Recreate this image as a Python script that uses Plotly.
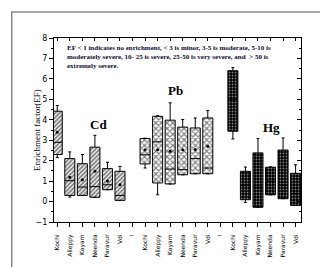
import plotly.graph_objects as go

# ---------------- data ----------------
sites = ["Kochi", "Alleppy", "Kayam", "Neenda", "Paravur", "Vdi"]
tick_labels = sites + ["!"] + sites + ["!"] + sites
cd_pos = [0, 1, 2, 3, 4, 5]
pb_pos = [7, 8, 9, 10, 11, 12]
hg_pos = [14, 15, 16, 17, 18, 19]

cd_q1 = [2.30, 0.30, 0.30, 0.21, 0.58, 0.06]
cd_med = [2.90, 1.02, 0.71, 0.73, 0.82, 0.30]
cd_q3 = [4.42, 2.10, 1.85, 2.66, 1.61, 1.48]
cd_lo = [2.15, 0.22, 0.30, 0.21, 0.58, 0.06]
cd_hi = [4.70, 2.43, 2.30, 3.24, 1.92, 1.72]
cd_mean = [3.39, 1.19, 1.07, 1.48, 1.00, 0.82]

pb_q1 = [1.84, 0.91, 0.86, 1.31, 1.36, 1.36]
pb_med = [2.29, 2.92, 1.59, 1.56, 2.10, 1.64]
pb_q3 = [3.08, 4.17, 3.98, 3.64, 3.60, 4.09]
pb_lo = [1.64, 0.33, 0.86, 1.31, 1.36, 1.36]
pb_hi = [3.10, 4.20, 4.83, 4.01, 4.09, 4.45]
pb_mean = [2.54, 2.54, 2.46, 2.54, 2.55, 2.70]

hg_q1 = [3.44, 0.09, -0.28, 0.33, 0.14, -0.19]
hg_med = [5.00, 0.80, 0.70, 1.00, 0.80, 0.40]
hg_q3 = [6.40, 1.48, 2.38, 1.68, 2.52, 1.38]
hg_lo = [3.06, -0.04, -0.28, 0.33, 0.14, -0.19]
hg_hi = [6.55, 1.69, 3.08, 1.70, 3.11, 1.80]

note = ("EF < 1 indicates no enrichment, < 3 is minor, 3-5 is moderate, 5-10 is<br>"
        "moderately severe, 10- 25 is severe, 25-50 is very severe, and  > 50 is<br>"
        "extremely severe.")

groups = [
    ("Cd", cd_pos, cd_q1, cd_med, cd_q3, cd_lo, cd_hi,
     dict(shape="/", fgcolor="black", bgcolor="white", size=3, solidity=0.6)),
    ("Pb", pb_pos, pb_q1, pb_med, pb_q3, pb_lo, pb_hi,
     dict(shape="x", fgcolor="black", bgcolor="white", size=4, solidity=0.5)),
    ("Hg", hg_pos, hg_q1, hg_med, hg_q3, hg_lo, hg_hi,
     dict(shape=".", fgcolor="white", bgcolor="black", size=3, solidity=0.3)),
]

fig = go.Figure()
for name, pos, q1, med, q3, lo, hi, pat in groups:
    fig.add_trace(go.Bar(
        x=pos, y=[b - a for a, b in zip(q1, q3)], base=q1, width=0.8,
        marker=dict(color="white", pattern=pat, line=dict(width=0)),
        showlegend=False, hoverinfo="skip"))
    fig.add_trace(go.Box(
        x=pos, q1=q1, median=med, q3=q3, lowerfence=lo, upperfence=hi,
        width=0.8, whiskerwidth=0.3, fillcolor="rgba(0,0,0,0)",
        line=dict(color="black", width=1), boxpoints=False, showlegend=False))

for pos, mean in [(cd_pos, cd_mean), (pb_pos, pb_mean)]:
    fig.add_trace(go.Scatter(x=pos, y=mean, mode="markers",
                             marker=dict(symbol="circle", size=3, color="black"),
                             showlegend=False))

# dummy trace for mirrored inside-tick axes
fig.add_trace(go.Scatter(x=[None], y=[None], xaxis="x2", yaxis="y2", showlegend=False))

xr = [-0.26, 19.43]
fig.update_layout(
    width=328, height=267,
    margin=dict(l=46, r=35, t=30, b=53),
    paper_bgcolor="white", plot_bgcolor="white",
    barmode="overlay", boxmode="overlay",
    font=dict(family="DejaVu Sans", color="black"),
    xaxis=dict(range=xr, tickmode="array", tickvals=list(range(20)), ticktext=tick_labels,
               tickangle=-90, ticks="outside", ticklen=4, tickcolor="black",
               ticklabelstandoff=5,
               showline=True, linecolor="black", linewidth=1, mirror=True,
               showgrid=False, zeroline=False, tickfont=dict(size=6)),
    yaxis=dict(range=[-1, 8], dtick=1, ticks="outside", ticklen=4, tickcolor="black",
               minor=dict(dtick=0.5, ticks="outside", ticklen=2, tickcolor="black"),
               showline=True, linecolor="black", linewidth=1, mirror=True,
               showgrid=False, zeroline=False, tickfont=dict(size=8)),
    xaxis2=dict(range=xr, overlaying="x", side="top", tickmode="array",
                tickvals=list(range(20)), ticks="inside", ticklen=3, tickcolor="black",
                showticklabels=False, showgrid=False, zeroline=False),
    yaxis2=dict(range=[-1, 8], overlaying="y", side="right", dtick=1, ticks="inside",
                ticklen=4, tickcolor="black",
                minor=dict(dtick=0.5, ticks="inside", ticklen=2, tickcolor="black"),
                showticklabels=False, showgrid=False, zeroline=False),
)

ann = [
    dict(x=3.27, y=3.76, text="<b>Cd</b>", font=dict(family="Liberation Serif", size=13)),
    dict(x=9.44, y=5.42, text="<b>Pb</b>", font=dict(family="Liberation Serif", size=13)),
    dict(x=17.06, y=3.6, text="<b>Hg</b>", font=dict(family="Liberation Serif", size=13)),
]
for a in ann:
    fig.add_annotation(xref="x", yref="y", showarrow=False, **a)

fig.add_annotation(xref="paper", yref="paper", x=0.046, y=0.98, xanchor="left", yanchor="top",
                   text="<b>" + note + "</b>", align="left", showarrow=False,
                   font=dict(family="Liberation Serif", size=7, color="#0d0d33"))
fig.add_annotation(xref="paper", yref="paper", x=-0.097, y=0.5, textangle=-90,
                   text="Enrichment factor(EF)", showarrow=False,
                   font=dict(family="Liberation Serif", size=9))

fig.add_shape(type="rect", xref="paper", yref="paper", x0=-0.171, x1=1.128, y0=-0.257, y1=1.141,
              line=dict(color="#8c8c8c", width=1.5))

fig.write_html("out.html")
